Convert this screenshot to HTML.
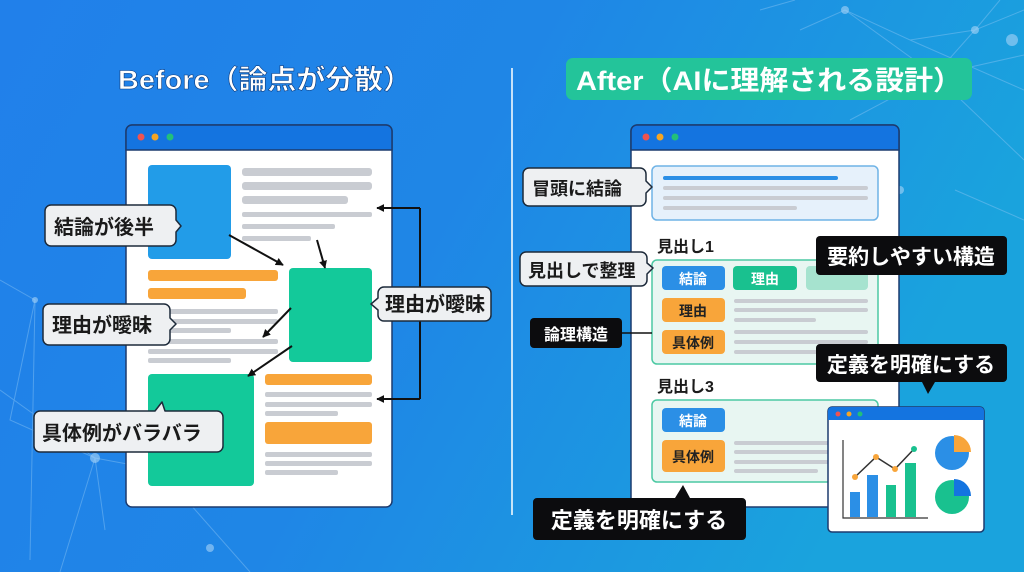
<!DOCTYPE html>
<html><head><meta charset="utf-8"><style>
html,body{margin:0;padding:0;width:1024px;height:572px;overflow:hidden}
svg{display:block}
text{font-family:"Liberation Sans","Noto Sans CJK JP",sans-serif;font-weight:bold}
</style></head><body>
<svg width="1024" height="572" viewBox="0 0 1024 572" xmlns="http://www.w3.org/2000/svg">
<defs>
<linearGradient id="bg" x1="0" y1="0" x2="1" y2="0.3">
<stop offset="0" stop-color="#2180ea"/><stop offset="0.5" stop-color="#1f86e6"/><stop offset="1" stop-color="#1aa3dd"/>
</linearGradient>
<marker id="ah" viewBox="0 0 10 10" refX="9" refY="5" markerWidth="4" markerHeight="4" orient="auto"><path d="M0,0L10,5L0,10z" fill="#111"/></marker>
</defs>
<rect width="1024" height="572" fill="url(#bg)"/>
<g stroke="#8cc6f5" stroke-opacity="0.45" stroke-width="1" fill="none">
<path d="M0,280 L35,300 L10,420 L95,458 L105,530 M0,390 L95,458 L160,470 M35,300 L30,560 M95,458 L60,572 M160,470 L200,400 M160,470 L250,572"/>
<path d="M760,10 L795,0 M800,30 L845,10 L910,40 L975,30 L1024,10 M845,10 L935,75 L975,30 M935,75 L1024,55 M910,40 L1024,90 M975,30 L1000,0 M850,120 L935,75 L1024,160 M955,190 L1024,220"/>
</g>
<g fill="#a8d4f7" fill-opacity="0.6">
<circle cx="95" cy="458" r="5"/><circle cx="160" cy="470" r="6"/><circle cx="35" cy="300" r="3"/><circle cx="210" cy="548" r="4"/>
<circle cx="845" cy="10" r="4"/><circle cx="935" cy="75" r="5"/><circle cx="975" cy="30" r="4"/><circle cx="1012" cy="40" r="6"/><circle cx="900" cy="190" r="4"/>
</g>
<!-- titles -->
<text x="118" y="89" font-size="27" fill="#fff" stroke="#0b3c80" stroke-width="0.6" textLength="294" lengthAdjust="spacingAndGlyphs">Before（論点が分散）</text>
<line x1="512" y1="68" x2="512" y2="515" stroke="#fff" stroke-width="1.5"/>
<rect x="566" y="58" width="406" height="42" rx="7" fill="#23c49a"/>
<text x="576" y="90" font-size="27" fill="#fff" textLength="386" lengthAdjust="spacingAndGlyphs">After（AIに理解される設計）</text>

<!-- LEFT browser -->
<rect x="126" y="125" width="266" height="382" rx="6" fill="#fff" stroke="#1d3b6e" stroke-width="1.5"/>
<path d="M126,150 V131 a6,6 0 0 1 6,-6 H386 a6,6 0 0 1 6,6 V150 Z" fill="#1474e0" stroke="#1d3b6e" stroke-width="1.5"/>
<circle cx="141" cy="137" r="3.5" fill="#ef5350"/><circle cx="155" cy="137" r="3.5" fill="#f5a524"/><circle cx="170" cy="137" r="3.5" fill="#22c07a"/>
<rect x="148" y="165" width="83" height="94" rx="4" fill="#229ce8"/>
<g fill="#c9ccd2">
<rect x="242" y="168" width="130" height="8" rx="3"/><rect x="242" y="182" width="130" height="8" rx="3"/><rect x="242" y="196" width="106" height="8" rx="3"/>
<rect x="242" y="212" width="130" height="5" rx="2"/><rect x="242" y="224" width="93" height="5" rx="2"/><rect x="242" y="236" width="69" height="5" rx="2"/>
<rect x="148" y="309" width="130" height="5" rx="2"/><rect x="148" y="319" width="130" height="5" rx="2"/><rect x="148" y="328" width="83" height="5" rx="2"/>
<rect x="148" y="339" width="130" height="5" rx="2"/><rect x="148" y="349" width="130" height="5" rx="2"/><rect x="148" y="358" width="83" height="5" rx="2"/>
<rect x="265" y="392" width="107" height="5" rx="2"/><rect x="265" y="402" width="107" height="5" rx="2"/><rect x="265" y="411" width="73" height="5" rx="2"/>
<rect x="265" y="452" width="107" height="5" rx="2"/><rect x="265" y="461" width="107" height="5" rx="2"/><rect x="265" y="470" width="73" height="5" rx="2"/>
</g>
<g fill="#f8a53a">
<rect x="148" y="270" width="130" height="11" rx="3"/><rect x="148" y="288" width="98" height="11" rx="3"/>
<rect x="265" y="374" width="107" height="11" rx="3"/><rect x="265" y="422" width="107" height="22" rx="3"/>
</g>
<rect x="289" y="268" width="83" height="94" rx="4" fill="#13c99a"/>
<rect x="148" y="374" width="106" height="112" rx="4" fill="#13c99a"/>
<g stroke="#111" stroke-width="2" fill="none" marker-end="url(#ah)">
<line x1="229" y1="235" x2="283" y2="265"/><line x1="317" y1="240" x2="325" y2="268"/>
<line x1="291" y1="308" x2="263" y2="337"/><line x1="292" y1="346" x2="248" y2="376"/>
</g>
<g stroke="#111" stroke-width="2" fill="none">
<path d="M420,208 V399"/><path d="M420,208 H377" marker-end="url(#ah)"/><path d="M420,399 H377" marker-end="url(#ah)"/>
</g>
<!-- left callouts -->
<g fill="#eef0f2" stroke="#1d2a3a" stroke-width="1.5" stroke-linejoin="round">
<path d="M51,205 H170 a6,6 0 0 1 6,6 V220 L181,226 L176,232 V240 a6,6 0 0 1 -6,6 H51 a6,6 0 0 1 -6,-6 V211 a6,6 0 0 1 6,-6 Z"/>
<path d="M49,304 H164 a6,6 0 0 1 6,6 V318 L176,324 L170,330 V339 a6,6 0 0 1 -6,6 H49 a6,6 0 0 1 -6,-6 V310 a6,6 0 0 1 6,-6 Z"/>
<path d="M384,287 H485 a6,6 0 0 1 6,6 V315 a6,6 0 0 1 -6,6 H384 a6,6 0 0 1 -6,-6 V310 L371,304 L378,298 V293 a6,6 0 0 1 6,-6 Z"/>
<path d="M40,411 H155 L162,402 L165,411 H217 a6,6 0 0 1 6,6 V446 a6,6 0 0 1 -6,6 H40 a6,6 0 0 1 -6,-6 V417 a6,6 0 0 1 6,-6 Z"/>
</g>
<g font-size="20" fill="#1a1a1a">
<text x="54" y="234">結論が後半</text>
<text x="52" y="332">理由が曖昧</text>
<text x="385" y="311">理由が曖昧</text>
<text x="42" y="440">具体例がバラバラ</text>
</g>

<!-- RIGHT browser -->
<rect x="631" y="125" width="268" height="382" rx="6" fill="#fff" stroke="#1d3b6e" stroke-width="1.5"/>
<path d="M631,150 V131 a6,6 0 0 1 6,-6 H893 a6,6 0 0 1 6,6 V150 Z" fill="#1474e0" stroke="#1d3b6e" stroke-width="1.5"/>
<circle cx="646" cy="137" r="3.5" fill="#ef5350"/><circle cx="660" cy="137" r="3.5" fill="#f5a524"/><circle cx="675" cy="137" r="3.5" fill="#22c07a"/>
<rect x="652" y="166" width="226" height="54" rx="5" fill="#e6f1fb" stroke="#6fb3e6" stroke-width="1.5"/>
<rect x="663" y="176" width="175" height="4" rx="2" fill="#2b8fe6"/>
<g fill="#c9ccd2"><rect x="663" y="186" width="205" height="4" rx="2"/><rect x="663" y="196" width="205" height="4" rx="2"/><rect x="663" y="206" width="134" height="4" rx="2"/></g>
<text x="657" y="252" font-size="16" fill="#1a1a1a">見出し1</text>
<rect x="652" y="260" width="226" height="104" rx="5" fill="#e8f6f2" stroke="#4cc9a3" stroke-width="1.5"/>
<rect x="662" y="266" width="63" height="24" rx="4" fill="#2b8fe6"/>
<rect x="733" y="266" width="64" height="24" rx="4" fill="#19c18f"/>
<rect x="806" y="266" width="62" height="24" rx="4" fill="#a6e3cf"/>
<rect x="662" y="298" width="63" height="24" rx="4" fill="#f8a53a"/>
<rect x="662" y="330" width="63" height="24" rx="4" fill="#f8a53a"/>
<g fill="#c9ccd2">
<rect x="734" y="299" width="134" height="4" rx="2"/><rect x="734" y="308" width="134" height="4" rx="2"/><rect x="734" y="318" width="82" height="4" rx="2"/>
<rect x="734" y="330" width="134" height="4" rx="2"/><rect x="734" y="340" width="134" height="4" rx="2"/><rect x="734" y="350" width="100" height="4" rx="2"/>
</g>
<text x="657" y="392" font-size="16" fill="#1a1a1a">見出し3</text>
<rect x="652" y="400" width="226" height="82" rx="5" fill="#e8f6f2" stroke="#4cc9a3" stroke-width="1.5"/>
<rect x="662" y="408" width="63" height="24" rx="4" fill="#2b8fe6"/>
<rect x="662" y="440" width="63" height="32" rx="4" fill="#f8a53a"/>
<g fill="#c9ccd2"><rect x="734" y="441" width="100" height="4" rx="2"/><rect x="734" y="450" width="100" height="4" rx="2"/><rect x="734" y="460" width="100" height="4" rx="2"/><rect x="734" y="469" width="84" height="4" rx="2"/></g>
<g font-size="14" text-anchor="middle">
<text x="693" y="284" fill="#fff">結論</text><text x="765" y="284" fill="#fff">理由</text>
<text x="693" y="316" fill="#222">理由</text><text x="693" y="348" fill="#222">具体例</text>
<text x="693" y="426" fill="#fff">結論</text><text x="693" y="462" fill="#222">具体例</text>
</g>
<!-- chart window -->
<rect x="828" y="407" width="156" height="125" rx="4" fill="#fff" stroke="#1d3b6e" stroke-width="1.5"/>
<path d="M828,420 V411 a4,4 0 0 1 4,-4 H980 a4,4 0 0 1 4,4 V420 Z" fill="#1474e0"/>
<circle cx="838" cy="414" r="2.5" fill="#ef5350"/><circle cx="849" cy="414" r="2.5" fill="#f5a524"/><circle cx="860" cy="414" r="2.5" fill="#22c07a"/>
<path d="M843,440 V518 H928" stroke="#333" stroke-width="1.2" fill="none"/>
<rect x="850" y="492" width="10" height="25" fill="#2b8fe6"/><rect x="867" y="475" width="11" height="42" fill="#2b8fe6"/>
<rect x="886" y="485" width="10" height="32" fill="#19c18f"/><rect x="905" y="463" width="11" height="54" fill="#19c18f"/>
<polyline points="855,477 876,457 895,469 914,449" stroke="#333" stroke-width="1.5" fill="none"/>
<circle cx="855" cy="477" r="3" fill="#f8a53a"/><circle cx="876" cy="457" r="3" fill="#f8a53a"/><circle cx="895" cy="469" r="3" fill="#f8a53a"/><circle cx="914" cy="449" r="3" fill="#19c18f"/>
<circle cx="952" cy="453" r="17" fill="#2b8fe6"/><path d="M954,435 A17,17 0 0 1 971,452 H954 Z" fill="#f8a53a"/>
<circle cx="952" cy="497" r="17" fill="#19c18f"/><path d="M954,479 A17,17 0 0 1 971,496 H954 Z" fill="#1474e0"/>
<!-- right callouts -->
<g fill="#eef0f2" stroke="#1d2a3a" stroke-width="1.5" stroke-linejoin="round">
<path d="M529,168 H640 a6,6 0 0 1 6,6 V181 L652,187 L646,193 V200 a6,6 0 0 1 -6,6 H529 a6,6 0 0 1 -6,-6 V174 a6,6 0 0 1 6,-6 Z"/>
<path d="M526,252 H641 a6,6 0 0 1 6,6 V263 L653,268 L647,274 V280 a6,6 0 0 1 -6,6 H526 a6,6 0 0 1 -6,-6 V258 a6,6 0 0 1 6,-6 Z"/>
</g>
<g font-size="18" fill="#1a1a1a">
<text x="532" y="195">冒頭に結論</text>
<text x="528" y="277">見出しで整理</text>
</g>
<line x1="620" y1="333" x2="652" y2="333" stroke="#111" stroke-width="1.5"/>
<g fill="#0c0c0e">
<rect x="530" y="318" width="92" height="30" rx="4"/>
<rect x="816" y="236" width="191" height="39" rx="4"/>
<path d="M820,344 H1003 a4,4 0 0 1 4,4 V378 a4,4 0 0 1 -4,4 H935 L928,394 L922,382 H820 a4,4 0 0 1 -4,-4 V348 a4,4 0 0 1 4,-4 Z"/>
<path d="M537,498 H675 L683,485 L690,498 H742 a4,4 0 0 1 4,4 V536 a4,4 0 0 1 -4,4 H537 a4,4 0 0 1 -4,-4 V502 a4,4 0 0 1 4,-4 Z"/>
</g>
<g fill="#fff">
<text x="576" y="340" font-size="16" text-anchor="middle">論理構造</text>
<text x="911" y="264" font-size="21" text-anchor="middle">要約しやすい構造</text>
<text x="911" y="372" font-size="21" text-anchor="middle">定義を明確にする</text>
<text x="639" y="528" font-size="22" text-anchor="middle">定義を明確にする</text>
</g>
</svg>
</body></html>
